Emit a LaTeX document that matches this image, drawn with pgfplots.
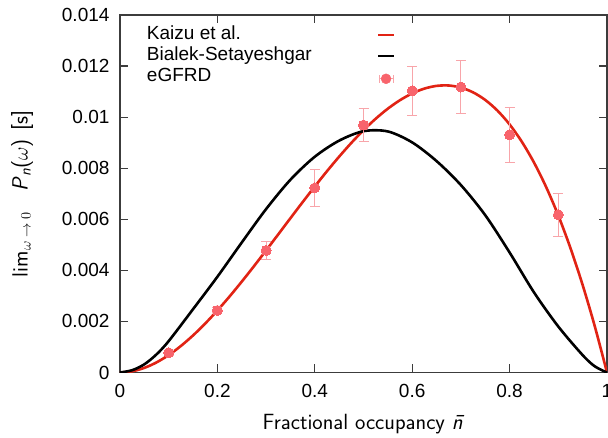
\documentclass[border=0pt]{standalone}
\usepackage{pgfplots}
\pgfplotsset{compat=1.18}
\usepackage{pgfplotstable}
\usepackage{fontspec}
\setmainfont{Liberation Sans}
\definecolor{kred}{RGB}{225,35,20}
\definecolor{dotc}{RGB}{248,100,108}
\definecolor{errc}{RGB}{248,165,170}
\definecolor{axc}{RGB}{60,60,60}

\pgfplotstableread{
x y
0 0
0.025 0.000046
0.05 0.000180
0.075 0.000395
0.1 0.000683
0.125 0.001038
0.15 0.001452
0.175 0.001918
0.2 0.002429
0.225 0.002978
0.25 0.003558
0.275 0.004161
0.3 0.004782
0.325 0.005411
0.35 0.006044
0.375 0.006671
0.4 0.007286
0.425 0.007883
0.45 0.008453
0.475 0.008991
0.5 0.009488
0.525 0.009937
0.55 0.010332
0.575 0.010665
0.6 0.010930
0.625 0.011118
0.65 0.011224
0.675 0.011239
0.7 0.011157
0.725 0.010971
0.75 0.010673
0.775 0.010257
0.8 0.009715
0.825 0.009040
0.85 0.008226
0.875 0.007264
0.9 0.006148
0.925 0.004871
0.95 0.003425
0.975 0.001804
1 0
}\kaizu

\pgfplotstableread{
x y
0 0
0.025 0.00009
0.05 0.00032
0.075 0.00071
0.1 0.00123
0.15 0.00248
0.2 0.00375
0.25 0.00509
0.3 0.00640
0.35 0.00755
0.4 0.00845
0.45 0.00908
0.5 0.00945
0.55 0.00944
0.6 0.00901
0.65 0.00828
0.7 0.00734
0.75 0.00616
0.8 0.00470
0.85 0.00314
0.9 0.00180
0.95 0.00068
0.975 0.00024
1 0
}\bialek

\pgfplotstableread{
x y e
0.1 0.00077 0.00010
0.2 0.00243 0.00010
0.3 0.00478 0.00035
0.4 0.00723 0.00072
0.5 0.00969 0.00063
0.6 0.01103 0.00097
0.7 0.01118 0.00105
0.8 0.00931 0.00108
0.9 0.00618 0.00084
}\egfrd

\begin{document}
\begin{tikzpicture}
\begin{axis}[
  scale only axis, width=487pt, height=357.5pt,
  xmin=0, xmax=1, ymin=0, ymax=0.014,
  axis line style={axc, line width=1.2pt},
  tick style={axc, line width=1.2pt},
  major tick length=8pt,
  tick align=inside,
  xtick={0,0.2,0.4,0.6,0.8,1},
  xticklabels={0,0.2,0.4,0.6,0.8,1},
  ytick={0,0.002,0.004,0.006,0.008,0.01,0.012,0.014},
  yticklabels={0,0.002,0.004,0.006,0.008,0.01,0.012,0.014},
  scaled x ticks=false, scaled y ticks=false,
  ticklabel style={font=\fontsize{19}{22}\selectfont},
  xticklabel style={yshift=-8pt},
  yticklabel style={xshift=-7pt},
  label style={font=\fontsize{22}{26}\selectfont\sffamily},
  xlabel={Fractional occupancy \textit{\=n}},
  xlabel style={at={(axis description cs:0.5,0)}, anchor=base, yshift=-57.5pt},
  ylabel={lim\textsubscript{$\omega\rightarrow0$}\hspace{0.9em}\textit{P}\textsubscript{\textit{n}}($\omega$)\hspace{0.4em}[s]},
  ylabel style={at={(axis description cs:-0.2012,0.5)}, anchor=center},
  legend cell align=left,
  legend plot pos=right,
  legend style={at={(axis description cs:0,1)}, anchor=north west,
    xshift=27pt, yshift=-9.3pt, draw=none, fill=none, inner sep=0pt, outer sep=0pt,
    font=\fontsize{19}{22}\selectfont, row sep=0pt, column sep=0pt,
    nodes={inner sep=0pt, text height=15pt, text depth=6.2pt}},
]
\coordinate (bl) at (rel axis cs:0,0);
\coordinate (tr) at (rel axis cs:1,1);
\addplot[kred, line width=2.6pt, smooth,
  legend image code/.code={\path (0pt,0pt); \draw[kred, line width=2.6pt] (65pt,0pt) -- (81pt,0pt);}]
  table[x=x, y=y] {\kaizu};
\addlegendentry{Kaizu et al.}
\addplot[black, line width=2.6pt, smooth,
  legend image code/.code={\path (0pt,0pt); \draw[black, line width=2.6pt] (65pt,0pt) -- (81pt,0pt);}]
  table[x=x, y=y] {\bialek};
\addlegendentry{Bialek-Setayeshgar}
\addplot[draw=none, mark=none, forget plot,
  error bars/.cd, y dir=both, y explicit,
  error bar style={errc, line width=1pt},
  error mark options={errc, rotate=90, mark size=5pt, line width=1pt}]
  table[x=x, y=y, y error=e] {\egfrd};
\addplot[dotc, only marks, mark=*, mark size=5pt,
  mark options={draw=dotc, fill=dotc, line width=0pt},
  legend image code/.code={\path (0pt,0pt);
    \draw[errc, line width=1pt] (66pt,-1.5pt)--(80pt,-1.5pt) (66pt,-5.5pt)--(66pt,2.5pt) (80pt,-5.5pt)--(80pt,2.5pt);
    \fill[dotc] (73pt,-1.5pt) circle (5pt);}]
  table[x=x, y=y] {\egfrd};
\addlegendentry{eGFRD}
\end{axis}
\pgfresetboundingbox
\path[use as bounding box] ([shift={(-120pt,-65.5pt)}]bl) rectangle ([shift={(1pt,15pt)}]tr);
\end{tikzpicture}
\end{document}
